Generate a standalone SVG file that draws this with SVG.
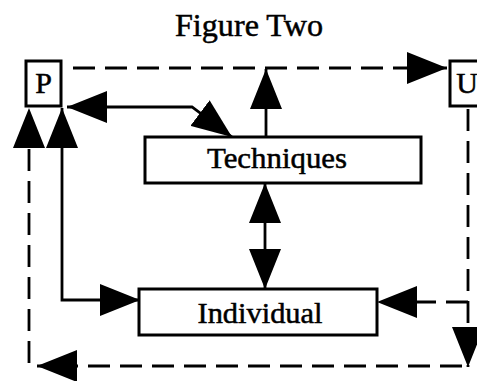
<svg xmlns="http://www.w3.org/2000/svg" width="477" height="381" viewBox="0 0 477 381">
<style>
.box{fill:#fff;stroke:#000;stroke-width:3}
.lbl{font-family:"Liberation Serif","DejaVu Serif",serif;fill:#000;stroke:#000;stroke-width:0.5;text-anchor:middle}
.ln{fill:none;stroke:#000;stroke-width:2.8}
.dash{stroke-dasharray:22 10}
</style>
<defs>
<marker id="ah" markerUnits="userSpaceOnUse" markerWidth="40" markerHeight="32" refX="40" refY="16" orient="auto-start-reverse" viewBox="0 0 40 32">
<path d="M0,0 L40,16 L0,32 Z" fill="#000" stroke="none"/>
</marker>
</defs>
<rect width="477" height="381" fill="#fff"/>
<text class="lbl" x="249" y="36" font-size="32" textLength="148" lengthAdjust="spacingAndGlyphs">Figure Two</text>
<g id="connectors">
<path class="ln dash" d="M73,68 H447" marker-end="url(#ah)"/>
<path class="ln dash" d="M468,109 V367" marker-end="url(#ah)"/>
<path class="ln dash" d="M462,366 H37" marker-end="url(#ah)"/>
<path class="ln dash" d="M29,363 V108" marker-end="url(#ah)"/>
<path class="ln" d="M140,300 H62 V108" marker-start="url(#ah)" marker-end="url(#ah)"/>
<path class="ln" d="M67,107 H192 L232,137" marker-start="url(#ah)" marker-end="url(#ah)"/>
<path class="ln" d="M266,137 V69" marker-end="url(#ah)"/>
<path class="ln" d="M265,183 V289" marker-start="url(#ah)" marker-end="url(#ah)"/>
<path class="ln dash" d="M468,302 H377" marker-end="url(#ah)"/>
</g>
<g id="P">
<rect class="box" x="26" y="61" width="35" height="45"/>
<text class="lbl" x="43.5" y="93" font-size="30">P</text>
</g>
<g id="U">
<rect class="box" x="450" y="61" width="40" height="45"/>
<text class="lbl" x="467" y="93" font-size="30">U</text>
</g>
<g id="Techniques">
<rect class="box" x="145" y="137" width="276" height="46"/>
<text class="lbl" x="277" y="168" font-size="30" textLength="140" lengthAdjust="spacingAndGlyphs">Techniques</text>
</g>
<g id="Individual">
<rect class="box" x="139" y="289" width="238" height="46"/>
<text class="lbl" x="260" y="323" font-size="29" textLength="125" lengthAdjust="spacingAndGlyphs">Individual</text>
</g>
</svg>
